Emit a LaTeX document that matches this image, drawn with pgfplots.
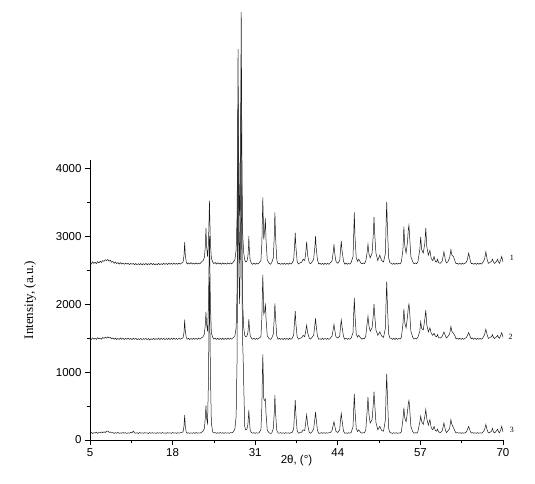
\documentclass[border=0pt]{standalone}
\usepackage{pgfplots}
\pgfplotsset{compat=1.18}
\usepackage{pgfplotstable}
\usepackage{fontspec}
\setmainfont{Liberation Sans}
\newfontfamily\seriffont{Liberation Serif}
\pgfplotstableread{
x y1 y2 y3
5.0 2610 1495 98
5.2 2590 1478 112
5.4 2622 1502 95
5.6 2598 1485 108
5.8 2615 1498 102
6.0 2595 1480 115
6.2 2625 1505 98
6.4 2605 1488 110
6.6 2630 1500 104
6.8 2612 1483 118
7.0 2640 1508 106
7.2 2628 1495 122
7.4 2652 1512 110
7.6 2640 1498 128
7.8 2655 1518 132
8.0 2632 1500 112
8.2 2645 1510 118
8.4 2615 1488 104
8.6 2628 1502 110
8.8 2600 1482 96
9.0 2620 1498 108
9.2 2595 1478 100
9.4 2612 1495 112
9.6 2588 1480 97
9.8 2608 1500 106
10.0 2590 1483 99
10.2 2605 1497 110
10.4 2585 1478 101
10.6 2603 1496 108
10.8 2588 1482 97
11.0 2600 1500 105
11.2 2582 1480 100
11.4 2598 1494 112
11.6 2585 1478 104
11.8 2600 1496 132
12.0 2580 1482 106
12.2 2596 1498 99
12.4 2578 1476 108
12.6 2595 1492 96
12.8 2580 1478 110
13.0 2597 1495 100
13.2 2577 1475 107
13.4 2594 1493 97
13.6 2580 1480 109
13.8 2598 1497 101
14.0 2578 1476 106
14.2 2595 1494 96
14.4 2582 1472 110
14.6 2600 1490 99
14.8 2580 1478 108
15.0 2597 1496 100
15.2 2576 1477 106
15.4 2593 1492 96
15.6 2579 1480 109
15.8 2598 1498 101
16.0 2580 1478 107
16.2 2596 1495 98
16.4 2582 1480 110
16.6 2600 1497 100
16.8 2584 1477 106
17.0 2598 1494 97
17.2 2583 1480 109
17.4 2602 1498 101
17.6 2585 1479 106
17.8 2600 1496 98
18.0 2584 1480 110
18.2 2603 1499 100
18.4 2586 1481 107
18.6 2600 1495 97
18.8 2585 1480 108
19.0 2604 1498 101
19.2 2588 1482 106
19.4 2602 1494 110
19.65 2620 1505 120
19.8 2720 1590 210
19.9 2910 1770 365
20.0 2720 1600 200
20.15 2620 1510 115
20.3 2590 1482 98
20.5 2605 1496 108
20.7 2588 1479 97
20.9 2610 1494 106
21.1 2590 1480 99
21.3 2603 1497 108
21.5 2587 1481 97
21.7 2605 1495 110
21.9 2590 1482 100
22.1 2604 1498 106
22.3 2592 1484 101
22.5 2615 1500 110
22.8 2640 1520 130
23.0 2680 1560 170
23.15 2850 1700 330
23.25 3120 1880 510
23.35 2850 1700 320
23.5 2700 1600 250
23.65 2900 2000 900
23.75 3300 2700 1900
23.8 3520 3000 2400
23.85 3300 2700 1900
23.95 2900 2000 1000
24.1 2680 1580 250
24.3 2620 1510 120
24.5 2595 1485 104
24.7 2612 1500 110
24.9 2590 1480 98
25.1 2608 1497 108
25.3 2588 1478 99
25.5 2605 1495 110
25.7 2586 1480 100
25.9 2606 1498 107
26.1 2588 1479 97
26.3 2603 1496 109
26.5 2587 1481 100
26.7 2607 1499 106
26.9 2590 1482 98
27.1 2605 1497 110
27.3 2592 1484 104
27.5 2612 1502 115
27.8 2650 1530 160
28.0 2800 1650 350
28.15 3300 2200 1200
28.25 4800 3900 3300
28.3 5750 4950 4200
28.35 4900 4200 3600
28.45 3600 2900 2400
28.55 3300 2600 2000
28.7 4500 3800 3000
28.8 6300 5300 3800
28.9 4400 3500 2600
29.0 3100 2100 1500
29.1 2900 1850 1220
29.2 2750 1650 800
29.35 2650 1540 200
29.5 2620 1520 150
29.7 2630 1530 160
29.85 2700 1580 230
29.95 2850 1700 360
30.0 3000 1780 440
30.05 2850 1700 350
30.2 2650 1540 150
30.4 2600 1500 110
30.6 2585 1482 100
30.8 2602 1496 108
31.0 2586 1480 98
31.2 2603 1498 107
31.4 2588 1483 100
31.6 2605 1497 106
31.9 2640 1520 150
32.05 2900 1800 500
32.15 3350 2250 1050
32.2 3570 2430 1260
32.25 3350 2250 1050
32.35 2950 1850 600
32.5 3100 1900 580
32.6 3260 2010 600
32.7 2950 1800 400
32.9 2650 1530 140
33.2 2600 1490 105
33.4 2586 1480 98
33.6 2610 1500 100
33.85 2680 1560 170
34.0 3000 1800 400
34.1 3350 2010 660
34.2 3000 1800 400
34.4 2650 1530 140
34.6 2590 1482 102
34.8 2600 1495 100
35.0 2584 1480 109
35.2 2600 1497 99
35.4 2585 1478 107
35.6 2602 1496 97
35.8 2584 1481 108
36.0 2600 1495 100
36.2 2586 1479 106
36.4 2604 1497 98
36.6 2588 1482 108
36.8 2603 1495 110
37.05 2650 1540 160
37.2 2850 1750 400
37.3 3050 1900 590
37.4 2850 1720 380
37.6 2630 1520 140
37.8 2590 1484 100
38.0 2605 1496 108
38.3 2615 1505 115
38.55 2660 1540 150
38.8 2640 1520 140
38.95 2750 1600 260
39.1 2920 1690 370
39.25 2720 1580 230
39.5 2610 1500 110
39.7 2592 1486 100
39.9 2615 1505 115
40.2 2660 1540 160
40.4 2850 1700 320
40.5 3000 1790 410
40.6 2830 1680 310
40.8 2650 1530 140
41.0 2590 1482 98
41.2 2600 1490 100
41.4 2584 1480 108
41.6 2599 1496 99
41.8 2583 1478 107
42.0 2601 1497 98
42.2 2585 1481 108
42.4 2600 1495 100
42.6 2586 1480 107
42.8 2605 1497 110
43.1 2640 1530 140
43.3 2780 1640 230
43.4 2880 1700 270
43.5 2760 1630 220
43.7 2630 1520 130
44.0 2600 1500 110
44.3 2640 1530 150
44.45 2820 1690 320
44.55 2930 1765 390
44.65 2800 1680 300
44.9 2630 1520 130
45.1 2588 1482 98
45.3 2603 1497 106
45.5 2586 1481 97
45.7 2600 1494 108
45.9 2588 1483 100
46.1 2610 1500 110
46.4 2700 1580 200
46.5 3000 1850 450
46.6 3350 2090 680
46.7 3000 1850 450
46.9 2680 1560 170
47.1 2630 1515 125
47.3 2660 1540 150
47.6 2610 1500 110
47.8 2592 1484 100
48.0 2605 1496 108
48.2 2595 1488 104
48.4 2630 1530 150
48.6 2750 1700 400
48.75 2880 1820 630
48.9 2740 1680 380
49.1 2680 1600 250
49.4 2750 1650 300
49.6 3050 1850 550
49.7 3280 2000 710
49.8 3050 1850 550
50.0 2750 1620 260
50.3 2640 1540 150
50.6 2720 1590 200
50.9 2640 1530 140
51.2 2620 1510 130
51.5 2750 1650 300
51.6 3200 2050 700
51.7 3500 2330 970
51.8 3150 2000 680
52.0 2680 1560 170
52.2 2610 1500 112
52.4 2600 1495 105
52.6 2585 1480 97
52.8 2600 1497 108
53.0 2584 1479 99
53.2 2602 1496 107
53.4 2587 1481 98
53.6 2600 1494 105
53.8 2590 1486 100
54.0 2620 1510 120
54.25 2800 1700 300
54.4 3140 1930 475
54.55 2850 1720 320
54.75 2750 1650 270
54.95 2900 1800 400
55.1 3100 1950 540
55.2 3160 2000 580
55.3 3000 1900 480
55.5 2700 1600 200
55.8 2620 1510 120
56.0 2592 1486 100
56.2 2605 1498 108
56.4 2594 1488 102
56.6 2620 1510 120
56.9 2800 1600 260
57.05 2990 1740 350
57.2 2800 1640 270
57.45 2750 1620 230
57.7 2900 1780 350
57.85 3120 1910 450
58.0 2850 1700 320
58.25 2720 1590 220
58.5 2790 1650 300
58.7 2670 1570 180
58.95 2640 1540 150
59.15 2700 1570 200
59.35 2630 1530 140
59.55 2620 1520 130
59.7 2660 1550 160
59.85 2610 1510 120
60.1 2600 1500 110
60.3 2615 1512 118
60.45 2640 1530 140
60.7 2770 1590 250
60.95 2640 1530 140
61.1 2605 1502 110
61.3 2620 1520 130
61.6 2680 1560 170
61.8 2800 1670 300
61.95 2720 1600 230
62.2 2700 1570 180
62.45 2630 1530 130
62.6 2595 1490 104
62.8 2600 1500 110
63.0 2586 1483 100
63.2 2601 1497 108
63.4 2585 1480 98
63.6 2603 1496 107
63.8 2588 1482 99
64.0 2600 1495 106
64.2 2612 1505 115
64.35 2640 1530 140
64.6 2750 1580 200
64.85 2640 1520 130
65.0 2595 1488 102
65.2 2600 1500 110
65.4 2586 1482 99
65.6 2600 1497 107
65.8 2584 1480 98
66.0 2602 1496 108
66.2 2586 1481 99
66.4 2601 1495 106
66.6 2588 1482 100
66.8 2610 1500 110
67.1 2660 1550 150
67.3 2770 1630 230
67.5 2660 1550 150
67.7 2600 1495 104
67.9 2610 1505 110
68.2 2630 1520 130
68.35 2660 1550 170
68.5 2620 1510 120
68.65 2598 1492 104
68.8 2610 1505 115
69.0 2630 1520 140
69.15 2660 1540 160
69.3 2620 1510 120
69.45 2600 1496 106
69.6 2640 1530 140
69.8 2700 1580 200
70.0 2620 1510 120
}\xrd
\begin{document}
\begin{tikzpicture}
\path[use as bounding box] (-90pt,-43pt) rectangle (445pt,440pt);
\begin{axis}[
  at={(0pt,0pt)}, anchor=south west,
  scale only axis, width=413pt, height=280pt,
  xmin=5, xmax=70, ymin=0, ymax=4120,
  clip=false,
  axis x line*=bottom, axis y line*=left,
  axis line style={-, black, line width=0.7pt},
  xtick={5,18,31,44,57,70},
  ytick={0,1000,2000,3000,4000},
  minor x tick num=1, minor y tick num=1,
  tick align=outside,
  major tick length=5pt, minor tick length=3pt,
  tick style={black, line width=0.6pt},
  ticklabel style={font=\fontsize{11.5}{13}\selectfont},
  /pgf/number format/assume math mode=true,
  /pgf/number format/set thousands separator={},
  xlabel={2θ, (°)},
  xlabel style={font=\fontsize{11.5}{13}\selectfont, at={(axis description cs:0.5,0)}, anchor=north, yshift=-12pt},
  ylabel={Intensity, (a.u.)},
  ylabel style={font=\seriffont\fontsize{13}{15}\selectfont, at={(axis description cs:-0.145,0.5)}, anchor=center},
]
\addplot[black!90, line width=0.5pt] table[x=x, y=y1] {\xrd};
\addplot[black!90, line width=0.5pt] table[x=x, y=y2] {\xrd};
\addplot[black!90, line width=0.5pt] table[x=x, y=y3] {\xrd};
\node[font=\seriffont\fontsize{8}{9}\selectfont] at (axis cs:71.4,2676) {1};
\node[font=\seriffont\fontsize{8}{9}\selectfont] at (axis cs:71.2,1515) {2};
\node[font=\seriffont\fontsize{8}{9}\selectfont] at (axis cs:71.4,147) {3};
\end{axis}
\end{tikzpicture}
\end{document}
